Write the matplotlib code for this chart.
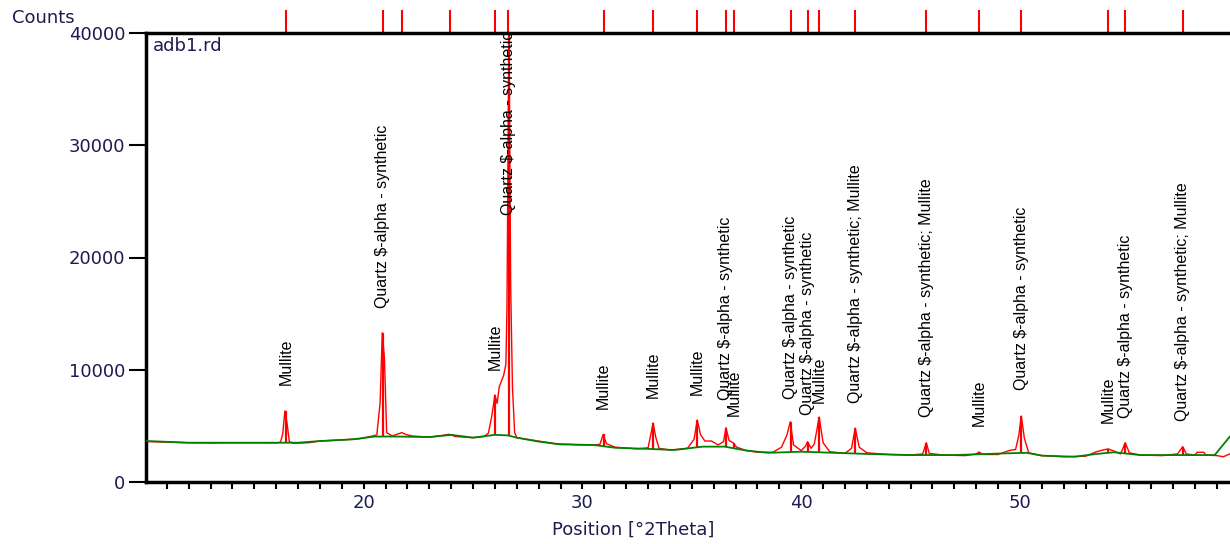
import numpy as np
import matplotlib
matplotlib.use('Agg')
import matplotlib.pyplot as plt
import matplotlib.transforms as mtransforms
from matplotlib.ticker import MultipleLocator

theta = [10.1, 11.0, 12.0, 13.0, 14.0, 15.0, 16.0, 16.2, 16.3, 16.4, 16.5, 16.6, 16.8,
         17.5, 18.0, 19.0, 19.8, 20.3, 20.6, 20.75, 20.85, 20.95, 21.05, 21.3, 21.6,
         21.75, 21.9, 22.2, 23.0, 23.6, 23.9, 24.2, 25.0, 25.5, 25.7, 25.85, 26.0, 26.1,
         26.2, 26.4, 26.5, 26.55, 26.64, 26.72, 26.8, 26.9, 27.0, 27.5, 28.0, 28.8,
         29.5, 30.0, 30.5, 30.8, 30.95, 31.1, 31.5, 32.5, 33.0, 33.15, 33.23, 33.35,
         33.5, 34.0, 34.8, 35.1, 35.25, 35.4, 35.6, 35.9, 36.2, 36.45, 36.56, 36.7,
         36.9, 37.05, 37.5, 38.0, 38.7, 39.1, 39.35, 39.5, 39.65, 40.0, 40.2, 40.29,
         40.45, 40.6, 40.82, 41.0, 41.3, 42.0, 42.3, 42.47, 42.65, 43.0, 44.0, 45.0,
         45.55, 45.72, 45.85, 46.5, 47.5, 48.0, 48.13, 48.3, 49.0, 49.5, 49.8, 49.95,
         50.06, 50.2, 50.4, 51.0, 52.0, 53.0, 53.5, 53.8, 54.03, 54.3, 54.6, 54.81,
         55.0, 55.5, 56.5, 57.2, 57.44, 57.6, 58.0, 58.1, 58.4, 58.5, 59.0, 59.3, 59.7]
counts = [3600, 3550, 3500, 3480, 3500, 3500, 3480, 3550, 4300, 6350, 5200, 3600, 3450,
          3500, 3650, 3750, 3850, 4050, 4200, 7000, 13300, 11000, 4400, 4100, 4300,
          4400, 4250, 4100, 4000, 4150, 4250, 4050, 3950, 4050, 4350, 5800, 7750, 7000,
          8500, 9500, 10500, 15600, 41000, 17400, 8500, 4400, 3950, 3800, 3650, 3400,
          3350, 3300, 3300, 3350, 4250, 3400, 3100, 2950, 3050, 4500, 5250, 4000,
          3000, 2850, 3000, 3800, 5520, 4200, 3650, 3650, 3300, 3600, 4840, 3700,
          3470, 3100, 2800, 2650, 2650, 3100, 4200, 5370, 3300, 2800, 3200, 3590,
          3000, 3400, 5790, 3500, 2700, 2550, 3000, 4800, 3100, 2600, 2450, 2400,
          2500, 3500, 2550, 2400, 2350, 2500, 2670, 2450, 2450, 2800, 2900, 4200,
          5880, 3900, 2600, 2350, 2250, 2300, 2700, 2850, 2950, 2750, 2500, 3500,
          2600, 2400, 2350, 2500, 3150, 2500, 2400, 2650, 2650, 2400, 2350, 2250, 2600]

# background (green)
bg_theta = [10.1, 12.0, 15.0, 17.0, 18.0, 19.5, 20.5, 21.5, 23.0, 24.0, 25.0, 26.0, 26.6,
            27.0, 28.0, 29.0, 30.5, 31.5, 33.0, 34.2, 35.5, 36.5, 37.5, 38.5, 40.0, 41.5,
            43.0, 45.0, 47.0, 49.3, 50.3, 51.0, 52.5, 53.5, 54.3, 55.5, 58.9, 59.7]
bg_counts = [3650, 3500, 3500, 3500, 3650, 3800, 4050, 4050, 4000, 4200, 3950, 4200, 4150,
             3950, 3600, 3350, 3300, 3050, 2950, 2850, 3150, 3150, 2800, 2600, 2700, 2600,
             2500, 2400, 2400, 2550, 2600, 2350, 2250, 2500, 2650, 2400, 2400, 4300]

# peak list
peak_pos = [16.44, 20.88, 26.01, 26.64, 30.97, 33.23, 35.25, 36.56, 36.94, 39.53, 40.29,
            40.82, 42.47, 45.72, 48.13, 50.06, 54.03, 54.81, 57.44]
peak_top = [6350, 13300, 7750, 41000, 4250, 5250, 5520, 4840, 3470, 5370, 3590,
            5790, 4800, 3500, 2670, 5880, 2950, 3500, 3150]
q = 'Quartz $-alpha - synthetic'
qm = 'Quartz $-alpha - synthetic; Mullite'
m = 'Mullite'
peak_label = [m, q, m, q, m, m, m, q, m, q, q, m, qm, qm, m, q, m, q, qm]
label_y = [8640, 15500, 9980, 23800, 6500, 7480, 7750, 7300, 5880, 7390, 5970,
           7040, 7040, 5800, 4950, 8200, 5300, 5700, 5450]

# reference pattern markers above the plot
ref_pos = [16.44, 20.88, 21.74, 23.93, 26.01, 26.61, 30.97, 33.23, 35.25, 36.56, 36.94,
           39.53, 40.29, 40.82, 42.47, 45.72, 48.13, 50.06, 54.03, 54.81, 57.44]

txt = '#1c1c50'

fig = plt.figure(figsize=(12.3, 5.44), dpi=100)
ax = fig.add_axes([146/1230, 1 - 482/544, 1 - 146/1230, (482 - 33)/544])

ax.plot(theta, counts, color='#ff0000', lw=1.0, zorder=2)
ax.plot(bg_theta, bg_counts, color='#008000', lw=1.3, zorder=3)
base = np.interp(peak_pos, bg_theta, bg_counts)
ax.vlines(peak_pos, base, peak_top, color='#ff0000', lw=1.6, zorder=2)

for p, t, yy in zip(peak_pos, peak_label, label_y):
    ax.text(p, yy, t, rotation=90, ha='center', va='bottom', fontsize=11.5,
            family='Liberation Sans', color='black', parse_math=False, zorder=4)

trans = mtransforms.blended_transform_factory(ax.transData, ax.transAxes)
ax.vlines(ref_pos, 1.0, 1.051, color='#ff0000', lw=1.5, transform=trans, clip_on=False)

ax.set_xlim(10.05, 59.6)
ax.set_ylim(0, 40000)
ax.xaxis.set_major_locator(MultipleLocator(10))
ax.xaxis.set_minor_locator(MultipleLocator(1))
ax.yaxis.set_major_locator(MultipleLocator(10000))
ax.tick_params(axis='x', which='both', direction='out', length=5, width=1.5,
               labelsize=13, labelcolor=txt)
ax.tick_params(axis='y', direction='out', length=12, width=1.5, labelsize=13,
               labelcolor=txt, pad=3)
ax.spines['right'].set_visible(False)
for s in ['left', 'top', 'bottom']:
    ax.spines[s].set_linewidth(2.5)

ax.text(0.006, 0.99, 'adb1.rd', transform=ax.transAxes, ha='left', va='top',
        fontsize=13, color=txt)
fig.text(12/1230, 1 - 18/544, 'Counts', ha='left', va='center', fontsize=13, color=txt)
fig.text(633/1230, 1 - 530/544, 'Position [°2Theta]', ha='center', va='center',
         fontsize=13, color=txt)

fig.savefig('out.png', dpi=100)
